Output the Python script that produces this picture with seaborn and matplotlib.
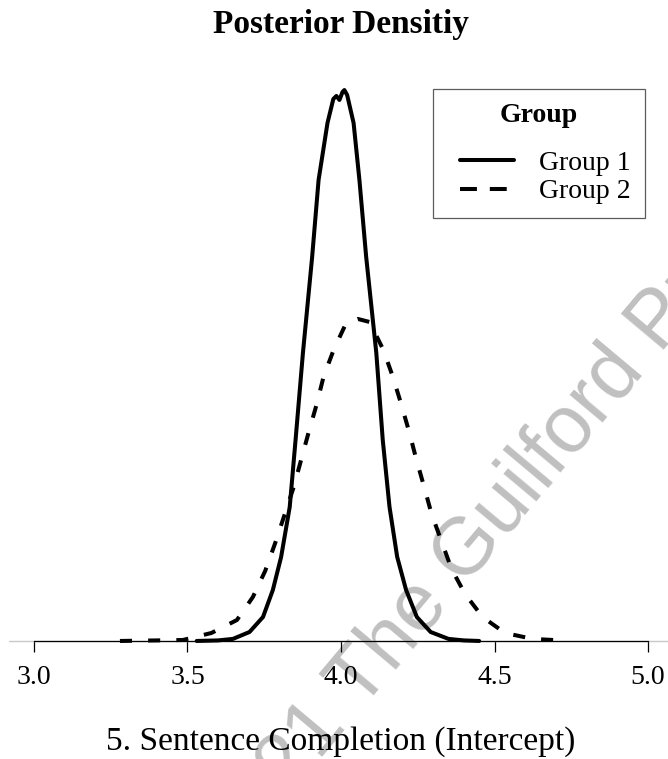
import matplotlib
matplotlib.use("Agg")
import matplotlib.pyplot as plt
from matplotlib.lines import Line2D
from matplotlib.legend_handler import HandlerLine2D
import pandas as pd
import seaborn as sns

# posterior density, one list per group
g1_x = [3.53, 3.60, 3.648, 3.702, 3.746, 3.778, 3.805, 3.833, 3.852, 3.876,
        3.906, 3.927, 3.956, 3.975, 3.985, 3.995, 4.005, 4.011, 4.020, 4.041,
        4.060, 4.082, 4.115, 4.136, 4.158, 4.183, 4.212, 4.247, 4.292, 4.350,
        4.400, 4.450]
g1_y = [0.000, 0.004, 0.015, 0.065, 0.174, 0.370, 0.610, 0.973, 1.459, 2.091,
        2.788, 3.347, 3.761, 3.935, 3.957, 3.928, 3.986, 4.000, 3.964, 3.761,
        3.347, 2.788, 2.091, 1.459, 0.973, 0.610, 0.370, 0.174, 0.065, 0.015,
        0.004, 0.000]

g2_x = [3.28, 3.40, 3.485, 3.578, 3.661, 3.713, 3.753, 3.787, 3.846, 3.894,
        3.921, 3.943, 3.976, 4.017, 4.055, 4.093, 4.138, 4.169, 4.196, 4.223,
        4.245, 4.270, 4.295, 4.328, 4.360, 4.404, 4.461, 4.534, 4.624, 4.717,
        4.737]
g2_y = [0.000, 0.004, 0.007, 0.058, 0.152, 0.319, 0.508, 0.719, 1.118, 1.510,
        1.720, 1.917, 2.113, 2.309, 2.338, 2.316, 2.113, 1.917, 1.720, 1.510,
        1.321, 1.125, 0.922, 0.719, 0.523, 0.341, 0.174, 0.058, 0.015, 0.004,
        0.000]

groups = ["Group 1", "Group 2"]
x_ticks = [3.0, 3.5, 4.0, 4.5, 5.0]
tick_labels = ["3.0", "3.5", "4.0", "4.5", "5.0"]

df = pd.concat([
    pd.DataFrame({"x": g1_x, "density": g1_y, "Group": groups[0]}),
    pd.DataFrame({"x": g2_x, "density": g2_y, "Group": groups[1]}),
])


# legend line that leaves some empty room on its left
class PaddedLine(HandlerLine2D):
    def get_xdata(self, legend, xdescent, ydescent, width, height, fontsize):
        x0 = -xdescent + 9.5
        x1 = -xdescent + width
        return [x0, x1], [(x0 + x1) / 2]


sns.set_style("white")
plt.rcParams["font.family"] = ["Liberation Serif", "DejaVu Serif"]
plt.rcParams["text.color"] = "black"
plt.rcParams["axes.labelcolor"] = "black"
plt.rcParams["xtick.color"] = "black"

W, H = 668, 759
fig = plt.figure(figsize=(W / 100, H / 100), dpi=100, facecolor="white")
ax = fig.add_axes([9.4 / W, 1 - 663 / H, 663.2 / W, 595 / H])
ax.set_facecolor("none")

ax.axhline(0, color="#c8c8c8", lw=1, zorder=1)

dash = (3.0, 4.0)
sns.lineplot(data=df, x="x", y="density", style="Group", style_order=groups,
             dashes={groups[0]: "", groups[1]: dash}, color="black",
             lw=2.9, estimator=None, sort=False, legend=False, ax=ax, zorder=3)

# spine first: moving it resets the tick properties
for s in ["top", "right", "left"]:
    ax.spines[s].set_visible(False)
ax.spines["bottom"].set_position(("data", 0))
ax.spines["bottom"].set_bounds(3.0, 5.0)
ax.spines["bottom"].set_linewidth(0.9)
ax.spines["bottom"].set_color("black")
ax.spines["bottom"].set_zorder(2)

ax.set_xlim(2.92, 5.08)
ax.set_ylim(-0.16, 4.16)
ax.set_yticks([])
ax.set_ylabel("")
ax.set_xticks(x_ticks)
ax.set_xticklabels(tick_labels)
ax.tick_params(axis="x", direction="out", length=8, width=0.9, pad=9,
               color="black", labelcolor="black", labelsize=20, bottom=True)

ax.set_xlabel("5. Sentence Completion (Intercept)", fontsize=24)
ax.xaxis.label.set_va("baseline")
ax.xaxis.set_label_coords(0.5, (663 - 750) / 595)

fig.text(341 / W, 1 - 33 / H, "Posterior Densitiy", fontsize=24,
         fontweight="bold", ha="center", va="baseline", color="black")

handles = [Line2D([], [], color="black", lw=2.9),
           Line2D([], [], color="black", lw=2.9, dashes=(4.2, 3.2))]
leg = ax.legend(handles, groups, title="Group", fontsize=20,
                title_fontproperties={"weight": "bold", "size": 20},
                loc="upper right", bbox_to_anchor=(645 / W, 1 - 89 / H),
                bbox_transform=fig.transFigure, borderaxespad=0,
                borderpad=0.5, handlelength=2.42, handletextpad=0.9,
                labelspacing=0.12, frameon=True, fancybox=False,
                handler_map={Line2D: PaddedLine()})
leg.get_frame().set_edgecolor("#333333")
leg.get_frame().set_linewidth(0.9)
leg._legend_box.sep = 16
for t in leg.get_texts():
    t.set_color("black")
leg.get_title().set_color("black")

fig.text(470 / W, 1 - 548 / H, "© 2021 The Guilford Press", fontsize=58,
         color="#c0c0c0", rotation=50, ha="center", va="center",
         family="Liberation Sans", zorder=-1)

fig.savefig("out.png", dpi=100, facecolor="white")
